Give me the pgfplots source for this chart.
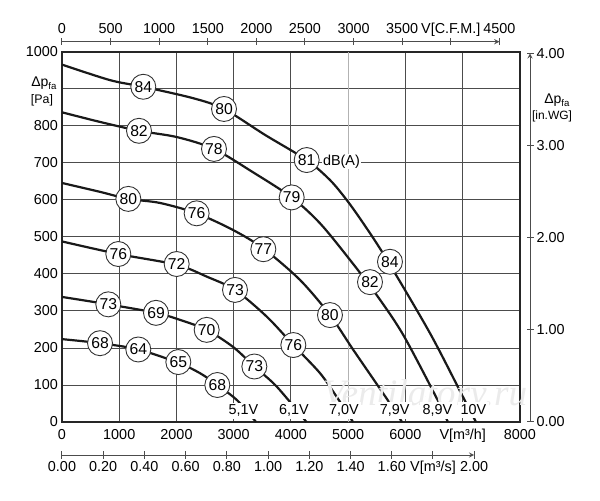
\documentclass[border=0pt]{standalone}
\usepackage{fontspec}
\setmainfont{Liberation Sans}
\newfontfamily\wmfont{Liberation Serif}
\usepackage{pgfplots}
\pgfplotsset{compat=1.18}
\newlength{\px}
\setlength{\px}{0.75pt}
\newcommand{\tf}{\fontsize{10.8}{13}\selectfont}
\newcommand{\cf}{\fontsize{11.8}{14}\selectfont}

\begin{document}
\begin{tikzpicture}
\tf
\path[use as bounding box] (-62\px,-78\px) rectangle (538\px,422\px);
\pgfplotsset{
  secax/.style={scale only axis, axis line style={-, line width=1\px, black!70},
    tick style={line width=1\px, black!70}, major tick length=7\px, tick align=outside,
    ticklabel style={font=\tf}},
  curve/.style={smooth, tension=0.5, line width=2.2\px, black!90, mark=none},
}
% main axis
\begin{axis}[
  at={(0,0)}, anchor=south west, scale only axis,
  width=458\px, height=370\px,
  xmin=0, xmax=8000, ymin=0, ymax=1000,
  xtick={0,1000,2000,3000,4000,6000,7000,8000},
  xticklabels={0,1000,2000,3000,4000,6000,{V[m³/h]},8000},
  extra x ticks={5000}, extra x tick labels={5000},
  extra x tick style={grid=major, major grid style={line width=1\px, black!30}},
  ytick={0,100,...,1000},
  yticklabels={0,100,200,300,400,500,600,700,800,{},1000},
  grid=major, major grid style={line width=1\px, black!70},
  axis line style={line width=2.3\px, black!85},
  major tick length=0pt,
  xticklabel style={font=\tf, text height=0.72em, yshift=-1.7\px},
  yticklabel style={font=\tf, xshift=1\px},
  clip=false,
]
% watermark
\addplot[only marks, mark=*, mark size=0pt, mark options={draw=none,fill=none},
  point meta=explicit symbolic, nodes near coords,
  nodes near coords style={anchor=center, font=\wmfont\itshape\fontsize{28}{30}\selectfont, text=black!8}]
  table[meta=l] {
  x y l
  6341 68 Ventilatory.ru
  };
% 10V
\addplot[curve] coordinates {(0,966) (838,924) (1420,906) (2294,875) (2830,846) (3546,776) (4274,708) (4681,654) (4973,600) (5263,537) (5650,445) (6428,240) (7030,60) (7231,0)};
% 8.9V
\addplot[curve] coordinates {(0,837) (664,811) (1345,787) (2009,770) (2655,738) (3336,675) (4012,607) (4507,537) (5031,438) (5497,343) (5962,235) (6556,61) (6740,0)};
% 7.9V
\addplot[curve] coordinates {(0,646) (664,622) (1159,603) (1712,592) (2352,564) (2987,519) (3517,469) (4157,384) (4681,289) (5088,195) (5677,62) (5939,0)};
% 7.0V
\addplot[curve] coordinates {(0,488) (984,454) (2003,425) (2527,393) (3022,357) (3575,285) (4041,208) (4507,132) (4798,68) (5083,0)};
% 6.1V
\addplot[curve] coordinates {(0,338) (809,318) (1642,295) (2061,276) (2527,249) (2987,203) (3360,150) (3755,95) (4270,0)};
% 5.1V
\addplot[curve] coordinates {(0,224) (664,213) (1333,196) (2032,160) (2410,132) (2713,100) (3057,59) (3389,0)};
% voltage labels
\addplot[only marks, mark=*, mark size=0pt, mark options={draw=none,fill=none},
  point meta=explicit symbolic, nodes near coords,
  nodes near coords style={anchor=base, font=\tf, fill=white, inner sep=2.5\px, text=black}]
  table[meta=l] {
  x y l
  3170 19 5,1V
  4050 19 6,1V
  4926 19 7,0V
  5811 19 7,9V
  6559 19 8,9V
  7188 19 10V
  };
% dB(A)
\addplot[only marks, mark=*, mark size=0pt, mark options={draw=none,fill=none},
  point meta=explicit symbolic, nodes near coords,
  nodes near coords style={anchor=center, font=\tf, fill=white, inner sep=1\px, text=black}]
  table[meta=l] {
  x y l
  4882 704 dB(A)
  };
% sound level circles
\addplot[only marks, mark=*, mark size=0pt, mark options={draw=none,fill=none},
  point meta=explicit symbolic, nodes near coords,
  nodes near coords style={anchor=center, circle, draw=black!80, fill=white, line width=0.9\px,
    inner sep=0pt, minimum size=25\px, font=\cf, text=black}]
  table[meta=l] {
  x y l
  1420 906 84
  2830 846 80
  4274 708 81
  5729 433 84
  1345 787 82
  2655 738 78
  4012 607 79
  5380 378 82
  1159 603 80
  2352 564 76
  3517 467 77
  4681 289 80
  984 454 76
  2003 427 72
  3022 357 73
  4041 208 76
  809 318 73
  1642 295 69
  2527 249 70
  3360 150 73
  664 213 68
  1333 196 64
  2032 162 65
  2713 100 68
  };
\end{axis}
% top axis: C.F.M.
\begin{axis}[secax, at={(0,379.3\px)}, anchor=south west, width=437.4\px, height=1\px,
  xmin=0, xmax=4500, ymin=0, ymax=1, axis x line=top, axis y line=none,
  xtick={0,500,...,4500},
  xticklabels={0,500,1000,1500,2000,2500,3000,3500,{V[C.F.M.]},4500},
  xticklabel style={text depth=0pt}]
\end{axis}
% bottom axis: m3/s
\begin{axis}[secax, at={(0,-33\px)}, anchor=south west, width=412.2\px, height=1\px,
  xmin=0, xmax=2, ymin=0, ymax=1, axis x line=bottom, axis y line=none,
  xtick={0,0.2,0.4,0.6,0.8,1.0,1.2,1.4,1.6,1.8,2.0},
  xticklabels={0.00,0.20,0.40,0.60,0.80,1.00,1.20,1.40,1.60,{V[m³/s]},2.00},
  xticklabel style={text height=0.72em, yshift=2\px}]
\end{axis}
% right axis: in.WG
\begin{axis}[secax, at={(467\px,0)}, anchor=south west, width=1\px, height=368.7\px,
  xmin=0, xmax=1, ymin=0, ymax=4, axis y line=right, axis x line=none,
  ytick={0,1,2,3,4},
  yticklabels={0.00,1.00,2.00,3.00,4.00},
  yticklabel style={xshift=-2\px}]
\end{axis}
% axis titles
\node[anchor=base west, inner sep=0pt] at (-31\px,335\px) {\fontsize{10.5}{12}\selectfont Δp\raisebox{-1.9pt}{\fontsize{7.2}{8}\selectfont fa}};
\node[anchor=center, inner sep=0pt] at (-20\px,321.5\px) {\fontsize{9.3}{11}\selectfont [Pa]};
\node[anchor=base west, inner sep=0pt] at (482\px,318.5\px) {\fontsize{10.5}{12}\selectfont Δp\raisebox{-1.9pt}{\fontsize{7.2}{8}\selectfont fa}};
\node[anchor=center, inner sep=0pt] at (490\px,306\px) {\fontsize{9}{11}\selectfont [in.WG]};
\end{tikzpicture}
\end{document}
